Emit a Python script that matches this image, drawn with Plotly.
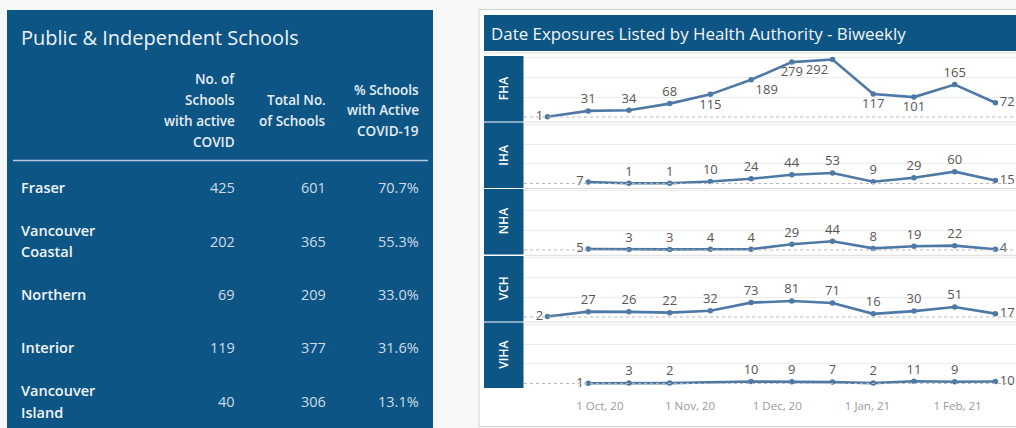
import plotly.graph_objects as go
from plotly.subplots import make_subplots

W, H = 1016, 428

# ---------------- Data: left table ----------------
table_title = "Public & Independent Schools"
header_cols = [
    ["No. of", "Schools", "with active", "COVID"],
    ["Total No.", "of Schools"],
    ["% Schools", "with Active", "COVID-19"],
]
region_lines = [["Fraser"], ["Vancouver", "Coastal"], ["Northern"], ["Interior"], ["Vancouver", "Island"]]
schools_active = [425, 202, 69, 119, 40]
schools_total = [601, 365, 209, 377, 306]
pct_active = [70.7, 55.3, 33.0, 31.6, 13.1]

# ---------------- Data: right chart ----------------
chart_title = "Date Exposures Listed by Health Authority - Biweekly"
dates = ["2020-09-13", "2020-09-27", "2020-10-11", "2020-10-25", "2020-11-08", "2020-11-22",
         "2020-12-06", "2020-12-20", "2021-01-03", "2021-01-17", "2021-01-31", "2021-02-14"]
authorities = ["FHA", "IHA", "NHA", "VCH", "VIHA"]
fha = [1, 31, 34, 68, 115, 189, 279, 292, 117, 101, 165, 72]
iha = [None, 7, 1, 1, 10, 24, 44, 53, 9, 29, 60, 15]
nha = [None, 5, 3, 3, 4, 4, 29, 44, 8, 19, 22, 4]
vch = [2, 27, 26, 22, 32, 73, 81, 71, 16, 30, 51, 17]
viha = [None, 1, 3, 2, None, 10, 9, 7, 2, 11, 9, 10]
tick_dates = ["2020-10-01", "2020-11-01", "2020-12-01", "2021-01-01", "2021-02-01"]
tick_labels = ["1 Oct, 20", "1 Nov, 20", "1 Dec, 20", "1 Jan, 21", "1 Feb, 21"]

series = [fha, iha, nha, vch, viha]

# ---------------- Style ----------------
BLUE = "#0d5585"
LINE = "#4e79a7"
FONT = "Open Sans"
BG = "#f7f7f7"


def X(p):
    return p / W


def Y(p):
    return 1 - p / H


# panel pixel rows (top, bottom)
rows_px = [(56, 121.5), (122.5, 188), (189, 254.5), (256, 321.5), (322.5, 388)]
plot_left = 524

fig = make_subplots(rows=5, cols=1, shared_xaxes=True)


def positions(vals, special=None):
    idx = [i for i, v in enumerate(vals) if v is not None]
    pos = ["top center"] * len(vals)
    pos[idx[0]] = "middle left"
    pos[idx[-1]] = "middle right"
    if special:
        for k, p in special.items():
            pos[k] = p
    return pos


fha_special = {4: "bottom center", 5: "bottom right", 6: "bottom center", 7: "bottom left",
               8: "bottom center", 9: "bottom center"}

for r, vals in enumerate(series):
    pos = positions(vals, fha_special if r == 0 else None)
    fig.add_trace(go.Scatter(
        x=dates, y=vals, mode="lines+markers+text",
        text=["" if v is None else str(v) for v in vals],
        textposition=pos,
        textfont=dict(family=FONT, size=13, color="#555555"),
        line=dict(color=LINE, width=2.6),
        marker=dict(color=LINE, size=5.5),
        connectgaps=True, cliponaxis=False, showlegend=False, hoverinfo="skip",
    ), row=r + 1, col=1)

shapes = []
annotations = []

# page background pieces
shapes.append(dict(type="rect", xref="paper", yref="paper", x0=X(7), x1=X(433), y0=Y(445), y1=Y(10),
                   fillcolor=BLUE, line=dict(width=0), layer="below"))
shapes.append(dict(type="rect", xref="paper", yref="paper", x0=X(479), x1=X(1030), y0=Y(426.5), y1=Y(9.5),
                   fillcolor="white", line=dict(color="#d2d2d2", width=1), layer="below"))
shapes.append(dict(type="rect", xref="paper", yref="paper", x0=X(484), x1=X(1030), y0=Y(51), y1=Y(15),
                   fillcolor=BLUE, line=dict(width=0), layer="below"))
shapes.append(dict(type="line", xref="paper", yref="paper", x0=X(484), x1=X(1030), y0=Y(53), y1=Y(53),
                   line=dict(color="#dedede", width=1), layer="below"))

# left table
annotations.append(dict(text=table_title, x=X(19), y=Y(37), xref="paper", yref="paper", xanchor="left",
                        yanchor="middle", showarrow=False,
                        font=dict(family=FONT, size=20, color="#eef3f8")))
col_right = [237, 328, 421]
for c, lines in enumerate(header_cols):
    n = len(lines)
    for i, t in enumerate(lines):
        yy = 110.5 + (i - (n - 1) / 2) * 21
        annotations.append(dict(text=t, x=X(col_right[c]), y=Y(yy), xref="paper", yref="paper",
                                xanchor="right", yanchor="middle", showarrow=False,
                                font=dict(family=FONT, size=13.5, color="#e6edf4", weight=600)))
shapes.append(dict(type="line", xref="paper", yref="paper", x0=X(13), x1=X(428), y0=Y(160.5), y1=Y(160.5),
                   line=dict(color="#b5cade", width=1.5)))

row_centers = [187, 241, 294.5, 347.5, 401]
for r, lines in enumerate(region_lines):
    n = len(lines)
    for i, t in enumerate(lines):
        yy = row_centers[r] + (i - (n - 1) / 2) * 22
        annotations.append(dict(text=t, x=X(19), y=Y(yy), xref="paper", yref="paper", xanchor="left",
                                yanchor="middle", showarrow=False,
                                font=dict(family=FONT, size=14.5, color="#f2f6fa", weight=600)))
    vals = [str(schools_active[r]), str(schools_total[r]), f"{pct_active[r]:.1f}%"]
    for c, t in enumerate(vals):
        annotations.append(dict(text=t, x=X(col_right[c]), y=Y(row_centers[r]), xref="paper", yref="paper",
                                xanchor="right", yanchor="middle", showarrow=False,
                                font=dict(family=FONT, size=14.5, color="#cfdce8")))

# right chart title
annotations.append(dict(text=chart_title, x=X(489), y=Y(33), xref="paper", yref="paper", xanchor="left",
                        yanchor="middle", showarrow=False,
                        font=dict(family=FONT, size=16.9, color="#f2f6fa")))

for r, (t, b) in enumerate(rows_px):
    shapes.append(dict(type="rect", xref="paper", yref="paper", x0=X(484), x1=X(523.5), y0=Y(b), y1=Y(t),
                       fillcolor=BLUE, line=dict(width=0), layer="below"))
    annotations.append(dict(text=authorities[r], x=X(503.5), y=Y((t + b) / 2), xref="paper", yref="paper",
                            xanchor="center", yanchor="middle", textangle=-90, showarrow=False,
                            font=dict(family=FONT, size=12, color="white", weight=600)))
    sfx = "" if r == 0 else str(r + 1)
    shapes.append(dict(type="line", xref=f"x{sfx} domain", yref=f"y{sfx}", x0=0, x1=1, y0=0, y1=0,
                       line=dict(color="#b8b8b8", width=1, dash="dot")))
    if r < 4:
        sep = (b + rows_px[r + 1][0]) / 2
        shapes.append(dict(type="line", xref="paper", yref="paper", x0=X(plot_left), x1=X(1030),
                           y0=Y(sep), y1=Y(sep), line=dict(color="#dadada", width=1)))
    fig.update_layout(**{
        f"yaxis{sfx}": dict(domain=[Y(b), Y(t)], range=[-23, 310], tickvals=[100, 200, 300],
                            showticklabels=False, showgrid=True, gridcolor="#ececec", gridwidth=1,
                            zeroline=False, showline=False, fixedrange=True),
        f"xaxis{sfx}": dict(domain=[X(plot_left), 1], range=["2020-09-04 22:00", "2021-02-21 02:00"],
                            type="date", showgrid=False, zeroline=False, showline=False,
                            tickvals=tick_dates, ticktext=tick_labels,
                            showticklabels=(r == 4), ticks="outside" if r == 4 else "",
                            ticklen=7, tickcolor="rgba(0,0,0,0)",
                            tickfont=dict(family=FONT, size=11.5, color="#9a9a9a")),
    })

fig.update_layout(
    width=W, height=H, margin=dict(l=0, r=0, t=0, b=0),
    paper_bgcolor=BG, plot_bgcolor="white",
    shapes=shapes, annotations=annotations, showlegend=False,
)

fig.write_html(
    "out.html",
    config={"displayModeBar": False},
    post_script="document.body.style.margin='0';document.body.style.padding='0';"
                "document.body.style.overflow='hidden';document.body.style.background='%s';" % BG,
)
